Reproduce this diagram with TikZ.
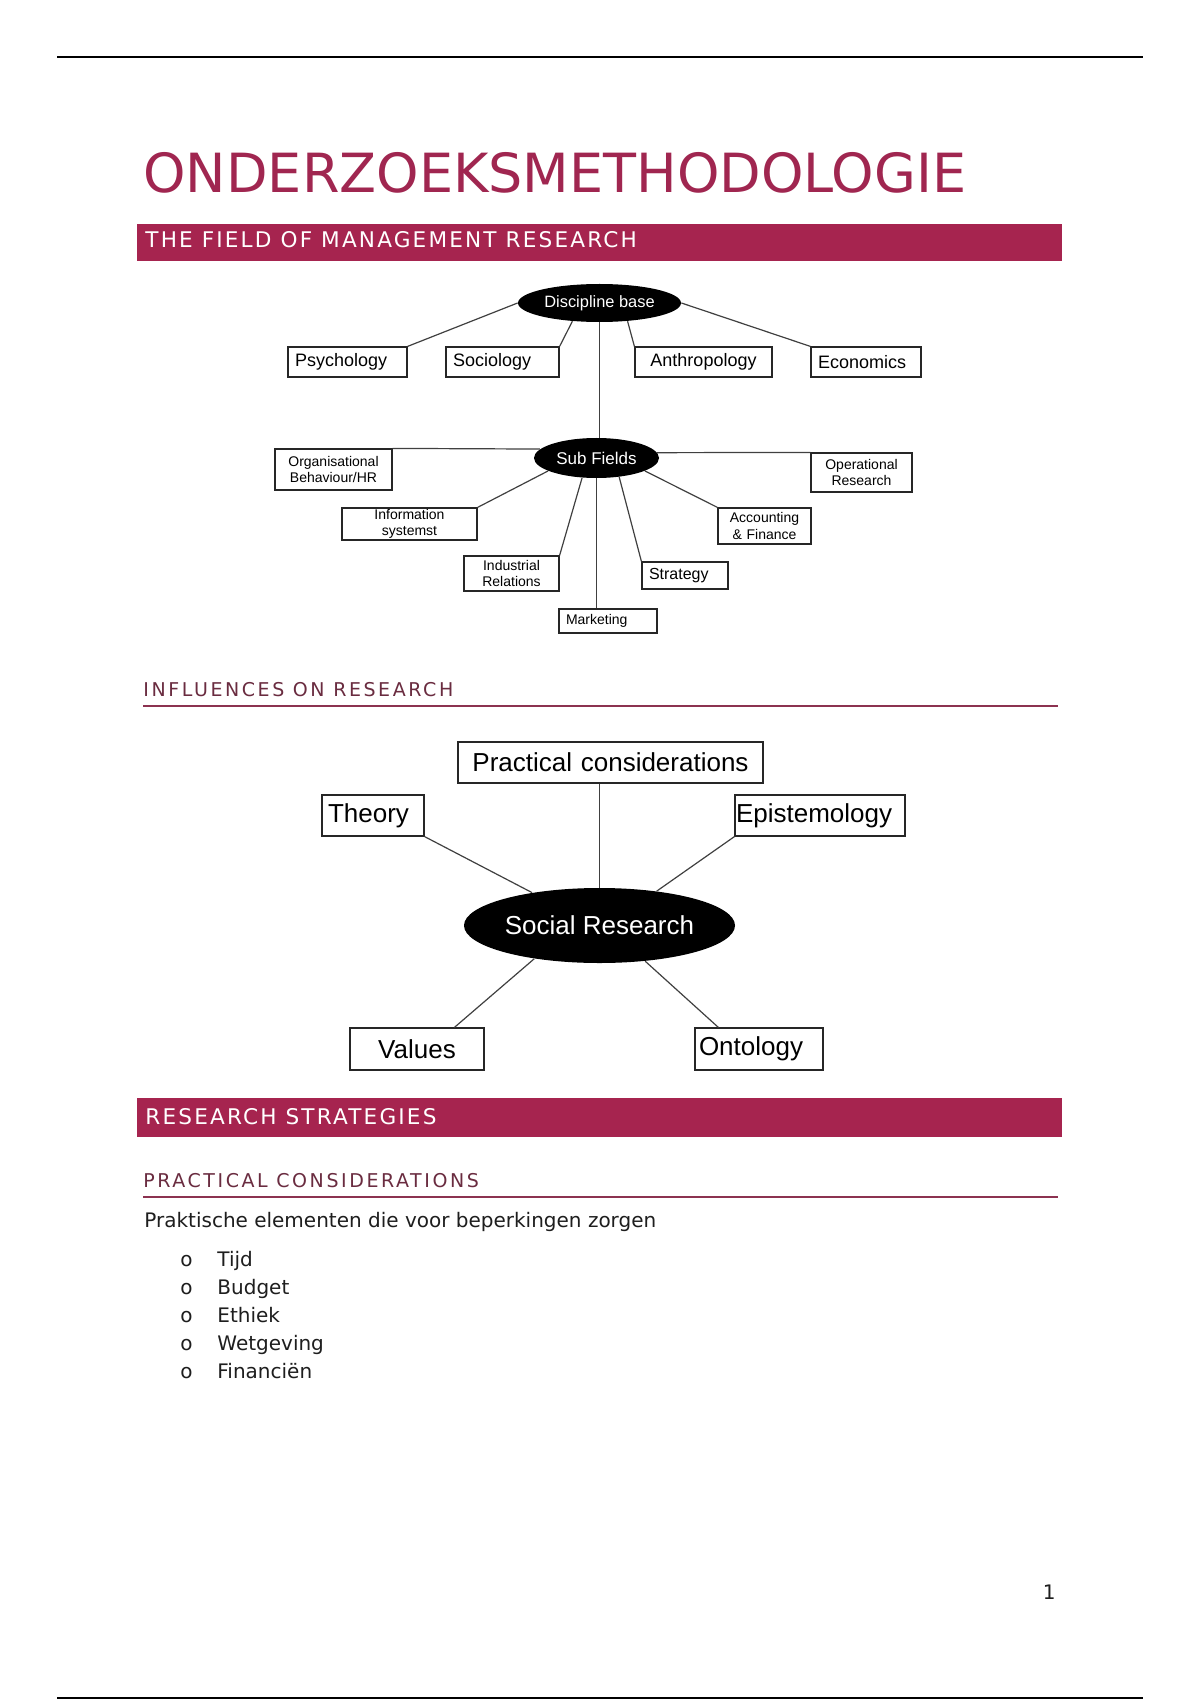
\documentclass[tikz,border=0pt]{standalone}
\usepackage{fontspec}
\setmainfont{DejaVu Sans}
\newfontfamily\diagfont{Liberation Sans}
\newfontfamily\barfont[LetterSpace=10]{DejaVu Sans}
\newfontfamily\headfont[LetterSpace=13.5]{DejaVu Sans}
\usetikzlibrary{shapes.geometric, backgrounds}
\definecolor{barred}{HTML}{A6244F}
\definecolor{titlered}{HTML}{A02650}
\definecolor{headplum}{HTML}{6A2C40}
\definecolor{rulemaroon}{HTML}{8C3250}
\definecolor{bodygray}{HTML}{1E1E1E}

\begin{document}
\begin{tikzpicture}[x=0.5pt, y=-0.5pt,
    fieldbox/.style={draw=black!85, line width=0.6pt, rectangle, inner xsep=3.5pt,
                     inner ysep=0pt, align=left, font=\diagfont\fontsize{9}{10}\selectfont},
    smallbox/.style={fieldbox, align=center, font=\diagfont\fontsize{7}{8.3}\selectfont},
    bigbox/.style={fieldbox, inner xsep=3pt, font=\diagfont\fontsize{13}{15}\selectfont},
    blob/.style={ellipse, fill=black, inner sep=0pt, text=white},
    link/.style={draw=black!75, line width=0.6pt},
    bartext/.style={anchor=base west, inner sep=0pt, text=white,
                    font=\barfont\fontsize{10.8}{13}\selectfont},
    headtext/.style={anchor=base west, inner sep=0pt, text=headplum,
                     font=\headfont\fontsize{9.5}{12}\selectfont},
    bodytext/.style={anchor=base west, inner sep=0pt, text=bodygray,
                     font=\fontsize{10}{12}\selectfont}]
  \fill[white] (0,0) rectangle (1200,1700);
  \useasboundingbox (0,0) rectangle (1200,1700);

  % Page frame and title
  \draw[line width=1pt] (57,57.5) -- (1143,57.5);
  \draw[line width=1pt] (57,1698) -- (1143,1698);
  \node[anchor=base west, inner sep=0pt, text=titlered,
        font=\fontsize{27}{32}\selectfont] (title) at (143,193) {ONDERZOEKSMETHODOLOGIE};
  \fill[barred] (137,224) rectangle (1062,261);
  \node[bartext] (bar1) at (145,248) {THE FIELD OF MANAGEMENT RESEARCH};

  % Discipline base
  \node[blob, minimum width=81.5pt, minimum height=19pt,
        font=\diagfont\fontsize{8.2}{10}\selectfont] (disc) at (599.5,303) {Discipline base};
  \node[fieldbox, text width=52.5pt, minimum height=15pt] (psy) at (347.5,362) {Psychology};
  \node[fieldbox, text width=49.5pt, minimum height=15pt] (soc) at (502.5,362) {Sociology};
  \node[fieldbox, text width=61.5pt, minimum height=15pt, align=center] (ant) at (703.5,362) {Anthropology};
  \node[fieldbox, text width=48pt, minimum height=15pt] (eco) at (866,362) {Economics};

  \draw[link] (psy.north east) -- (disc.west);
  \draw[link] (soc.north east) -- (disc.214);
  \draw[link] (ant.north west) -- (disc.327);
  \draw[link] (eco.north west) -- (disc.east);

  % Sub fields
  \node[blob, minimum width=62.5pt, minimum height=20pt,
        font=\diagfont\fontsize{8.5}{10}\selectfont] (sub) at (596.5,458) {Sub Fields};
  \draw[link] (disc.south) -- (disc.south |- sub.north);

  \node[smallbox, text width=51.5pt, minimum height=20.5pt] (org) at (333.5,469.5) {Organisational\\Behaviour/HR};
  \node[smallbox, text width=43.5pt, minimum height=19.5pt] (ops) at (861.5,472.5) {Operational\\Research};
  \node[smallbox, text width=60.5pt, minimum height=16pt] (inf) at (409.5,524) {Information\\systemst};
  \node[smallbox, text width=39.5pt, minimum height=18pt] (acc) at (764.5,526) {Accounting\\\& Finance};
  \node[smallbox, text width=40.5pt, minimum height=17.5pt] (ind) at (511.5,573.5) {Industrial\\Relations};
  \node[smallbox, text width=36pt, minimum height=13.5pt, align=left,
        font=\diagfont\fontsize{8}{9}\selectfont] (str) at (685,575.5) {Strategy};
  \node[smallbox, text width=42pt, minimum height=12pt, align=left] (mkt) at (608,621) {Marketing};

  \draw[link] (org.north east) -- (sub.171);
  \draw[link] (sub.5) -- (ops.north west);
  \draw[link] (inf.north east) -- (sub.195);
  \draw[link] (ind.north east) -- (sub.234);
  \draw[link] (sub.south) -- (sub.south |- mkt.north);
  \draw[link] (str.north west) -- (sub.320);
  \draw[link] (acc.north west) -- (sub.345);

  % Influences on research
  \node[headtext] (head2) at (143,696) {INFLUENCES ON RESEARCH};
  \draw[rulemaroon, line width=0.8pt] (143,706) -- (1058,706);

  \node[bigbox, text width=146.5pt, minimum height=20.5pt, align=center] (prac) at (610.5,762.5) {Practical considerations};
  \node[bigbox, text width=45pt, minimum height=20.5pt] (theo) at (373,815.5) {Theory};
  \node[bigbox, text width=84pt, inner xsep=0.5pt, minimum height=20.5pt] (epi) at (820,815.5) {Epistemology};
  \node[blob, minimum width=135.5pt, minimum height=37.5pt,
        font=\diagfont\fontsize{13}{15}\selectfont] (socres) at (599.5,925.5) {Social Research};
  \node[bigbox, text width=61pt, minimum height=21pt, align=center] (val) at (417,1049) {Values};
  \node[bigbox, text width=60pt, inner xsep=2pt, minimum height=21pt] (ont) at (759,1049) {Ontology};

  \draw[link] (socres.north) -- (socres.north |- prac.south);
  \draw[link] (theo.south east) -- (socres.154);
  \draw[link] (epi.south west) -- (socres.31);
  \draw[link] (val.30) -- (socres.207);
  \draw[link] (ont.152) -- (socres.322);

  % Research strategies
  \fill[barred] (137,1098) rectangle (1062,1137);
  \node[bartext] (bar2) at (145,1124) {RESEARCH STRATEGIES};
  \node[headtext] (head3) at (143,1187) {PRACTICAL CONSIDERATIONS};
  \draw[rulemaroon, line width=0.8pt] (143,1197) -- (1058,1197);
  \node[bodytext] (intro) at (144,1227) {Praktische elementen die voor beperkingen zorgen};
  \foreach \word [count=\i] in {Tijd, Budget, Ethiek, Wetgeving, Financiën} {
    \node[bodytext] (dot\i) at (180,1266+28*\i-28) {o};
    \node[bodytext] (word\i) at (217,1266+28*\i-28) {\word};
  }

  % Page number
  \node[anchor=base east, inner sep=0pt, text=bodygray,
        font=\fontsize{10}{12}\selectfont] (pagenum) at (1056,1599) {1};
\end{tikzpicture}
\end{document}
